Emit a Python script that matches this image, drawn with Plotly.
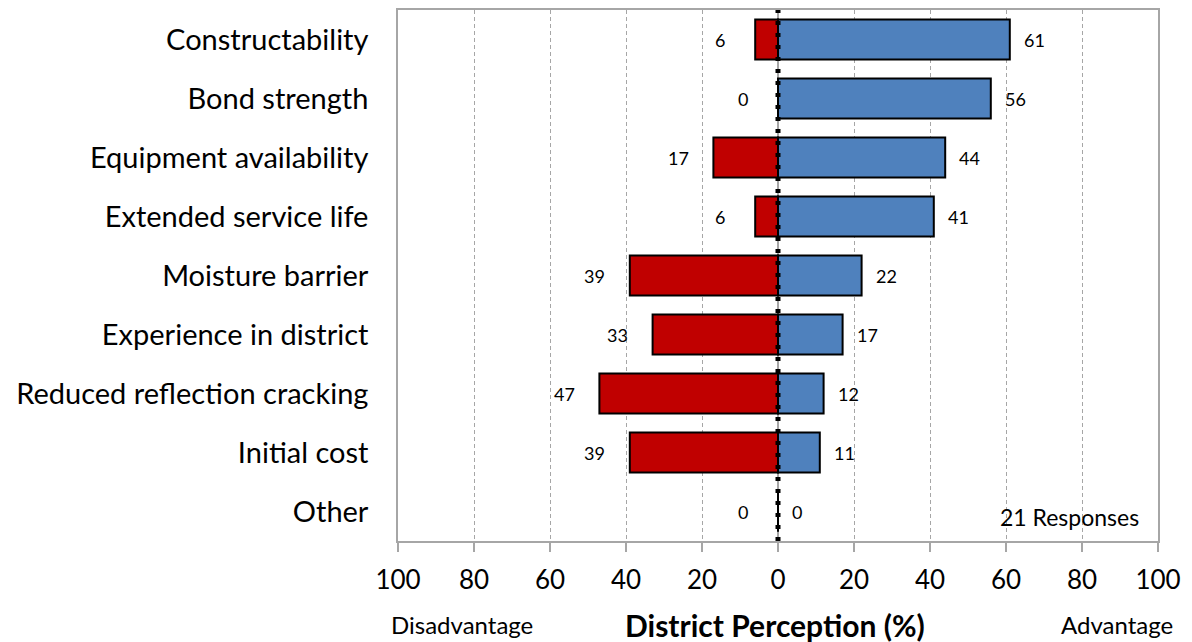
import plotly.graph_objects as go

categories = ["Constructability", "Bond strength", "Equipment availability",
              "Extended service life", "Moisture barrier", "Experience in district",
              "Reduced reflection cracking", "Initial cost", "Other"]
disadvantage = [6, 0, 17, 6, 39, 33, 47, 39, 0]
advantage = [61, 56, 44, 41, 22, 17, 12, 11, 0]
tick_vals = [-100, -80, -60, -40, -20, 0, 20, 40, 60, 80, 100]
tick_text = ["100", "80", "60", "40", "20", "0", "20", "40", "60", "80", "100"]

FONT = "Lato"
fig = go.Figure()
fig.add_trace(go.Bar(
    y=categories, x=[-v for v in disadvantage], orientation="h",
    marker=dict(color="#C00000", line=dict(color="black", width=2)),
    name="Disadvantage", hoverinfo="skip"))
fig.add_trace(go.Bar(
    y=categories, x=advantage, orientation="h",
    marker=dict(color="#4F81BD", line=dict(color="black", width=2)),
    name="Advantage", hoverinfo="skip"))

annotations = []
for c, v in zip(categories, disadvantage):
    annotations.append(dict(x=-v, y=c, xref="x", yref="y", text=str(v),
                            showarrow=False, xanchor="center", xshift=-35,
                            font=dict(family=FONT, size=18, color="black")))
for c, v in zip(categories, advantage):
    annotations.append(dict(x=v, y=c, xref="x", yref="y", text=str(v),
                            showarrow=False, xanchor="left", xshift=12,
                            font=dict(family=FONT, size=18, color="black")))

annotations += [
    dict(x=0.084, y=-0.158, xref="paper", yref="paper", text="Disadvantage",
         showarrow=False, xanchor="center", yanchor="middle",
         font=dict(family=FONT, size=24, color="black")),
    dict(x=0.946, y=-0.158, xref="paper", yref="paper", text="Advantage",
         showarrow=False, xanchor="center", yanchor="middle",
         font=dict(family=FONT, size=24, color="black")),
    dict(x=0.496, y=-0.158, xref="paper", yref="paper", text="<b>District Perception (%)</b>",
         showarrow=False, xanchor="center", yanchor="middle",
         font=dict(family=FONT, size=30, color="black")),
    dict(x=0.978, y=0.015, xref="paper", yref="paper", text="21 Responses",
         showarrow=False, xanchor="right", yanchor="bottom",
         font=dict(family=FONT, size=23, color="black")),
]

fig.add_shape(type="line", x0=0, x1=0, y0=0, y1=1, xref="x", yref="paper",
              line=dict(color="black", width=5, dash="4px,8px"), layer="above")

fig.update_layout(
    width=1184, height=634,
    margin=dict(l=390, r=34, t=0, b=101),
    barmode="relative", bargap=0.32,
    showlegend=False,
    plot_bgcolor="white", paper_bgcolor="white",
    font=dict(family=FONT, color="black"),
    annotations=annotations,
)
fig.update_xaxes(
    range=[-100, 100], tickvals=tick_vals, ticktext=tick_text,
    showgrid=True, gridcolor="#A6A6A6", griddash="4px,3px", gridwidth=1.3,
    zeroline=True, zerolinecolor="#A6A6A6", zerolinewidth=1.5,
    showline=True, linecolor="#A6A6A6", linewidth=1.5, mirror=True,
    ticks="outside", ticklen=9, tickcolor="#A6A6A6", tickwidth=1.5,
    ticklabelstandoff=6,
    tickfont=dict(family=FONT, size=26, color="black"),
)
fig.update_yaxes(
    categoryorder="array", categoryarray=categories, autorange="reversed",
    showgrid=False, showline=True, linecolor="#A6A6A6", linewidth=1.5, mirror=True,
    ticks="", ticklabelstandoff=22,
    tickfont=dict(family=FONT, size=29, color="black"),
)

fig.write_html("out.html")
